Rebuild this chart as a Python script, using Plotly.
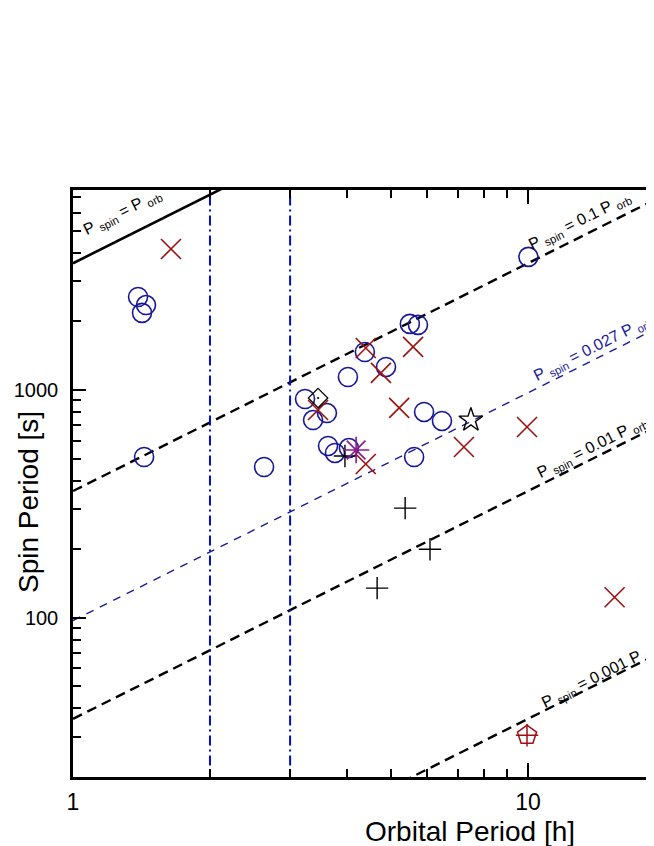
import numpy as np
import plotly.graph_objects as go

# orbital period [h], spin period [s] for each group
circle_porb = [1.39, 1.447, 1.418, 1.433, 2.63, 3.236, 3.37, 3.615, 3.635, 3.765,
               4.04, 4.02, 4.38, 4.875, 5.50, 5.73, 5.62, 5.91, 6.47, 10.02]
circle_pspin = [2560, 2360, 2180, 508, 459, 913, 738, 792, 568, 529,
                556, 1140, 1468, 1262, 1950, 1930, 508, 801, 731, 3840]

xmark_porb = [1.642, 3.456, 4.40, 4.75, 5.59, 5.21, 7.23, 4.40, 9.95, 15.5]
xmark_pspin = [4160, 817, 1528, 1188, 1545, 834, 562, 473, 688, 123]

plus_porb = [3.96, 5.37, 6.09, 4.66]
plus_pspin = [513, 303, 200, 135]

diamond_porb = [3.456]
diamond_pspin = [922]
aster_porb = [4.19]
aster_pspin = [545]
star_porb = [7.49]
star_pspin = [738]
penta_porb = [9.95]
penta_pspin = [30.5]

# P_spin = k * P_orb (P_orb converted to seconds)
ratios = [1.0, 0.1, 0.027, 0.01, 0.001]
gap_edges = [2.0, 3.0]
line_porb = np.array([1.0, 20.0])

NAVY = "#16169a"
DRED = "#a01010"
FONT = "Liberation Sans, Arial, sans-serif"

fig = go.Figure()

# reference lines
for k in ratios:
    if k == 1.0:
        ln = dict(color="black", width=2.6)
    elif k == 0.027:
        ln = dict(color="#1a1a9a", width=1.4, dash="8px,7px")
    else:
        ln = dict(color="black", width=2.4, dash="10px,6px")
    fig.add_trace(go.Scatter(x=line_porb, y=k * 3600 * line_porb, mode="lines",
                             line=ln, hoverinfo="skip"))

# period gap
for g in gap_edges:
    fig.add_trace(go.Scatter(x=[g, g], y=[10, 10000], mode="lines",
                             line=dict(color="#0010c0", width=2, dash="10px,4px,2px,4px"),
                             hoverinfo="skip"))

fig.add_trace(go.Scatter(x=circle_porb, y=circle_pspin, mode="markers",
                         marker=dict(symbol="circle-open", size=19, color=NAVY,
                                     line=dict(width=1.6, color=NAVY))))
fig.add_trace(go.Scatter(x=xmark_porb, y=xmark_pspin, mode="markers",
                         marker=dict(symbol="x-thin-open", size=20, color=DRED,
                                     line=dict(width=1.6, color=DRED))))
fig.add_trace(go.Scatter(x=plus_porb, y=plus_pspin, mode="markers",
                         marker=dict(symbol="cross-thin-open", size=16, color="black",
                                     line=dict(width=1.4, color="black"))))
fig.add_trace(go.Scatter(x=diamond_porb, y=diamond_pspin, mode="markers",
                         marker=dict(symbol="diamond-open-dot", size=15, color="black",
                                     line=dict(width=1.2, color="black"))))
fig.add_trace(go.Scatter(x=aster_porb, y=aster_pspin, mode="markers",
                         marker=dict(symbol="asterisk-open", size=22, color="#8b1a8b",
                                     line=dict(width=1.6, color="#8b1a8b"))))
fig.add_trace(go.Scatter(x=star_porb, y=star_pspin, mode="markers",
                         marker=dict(symbol="star-open", size=18, color="black",
                                     line=dict(width=1.4, color="black"))))
fig.add_trace(go.Scatter(x=penta_porb, y=penta_pspin, mode="markers",
                         marker=dict(symbol="pentagon-open", size=20, color=DRED,
                                     line=dict(width=1.5, color=DRED))))
fig.add_trace(go.Scatter(x=penta_porb, y=penta_pspin, mode="markers",
                         marker=dict(symbol="cross-thin-open", size=16, color=DRED,
                                     line=dict(width=1.5, color=DRED))))

# page sits 8px in from the window corner (body margin)
OFF = 8
W, H = 654 - OFF, 846 - OFF
# plot area in page pixels: left 73, right 654, top 190, bottom 777
L, R, T, B = 73, 654, 190, 777


def px(xp, yp):
    return (xp - L) / (R - L), (B - yp) / (B - T)


labels = [
    ("P <sub>spin</sub> = P <sub>orb</sub>", 122, 212, "black"),
    ("P <sub>spin</sub> = 0.1 P <sub>orb</sub>", 579, 221, "black"),
    ("P <sub>spin</sub> = 0.027 P <sub>orb</sub>", 592, 348, "#1a1a9a"),
    ("P <sub>spin</sub> = 0.01 P <sub>orb</sub>", 592, 447, "black"),
    ("P <sub>spin</sub> = 0.001 P <sub>orb</sub>", 600, 675, "black"),
]
annotations = []
for txt, xp, yp, col in labels:
    ax_, ay_ = px(xp, yp)
    annotations.append(dict(text=txt, x=ax_, y=ay_, xref="paper", yref="paper",
                            xanchor="center", yanchor="middle",
                            showarrow=False, textangle=-26.6,
                            font=dict(size=16, color=col, family=FONT)))

tx, ty = px(470, 831)
annotations.append(dict(text="Orbital Period [h]", x=tx, y=ty, xref="paper", yref="paper",
                        xanchor="center", yanchor="middle",
                        showarrow=False, font=dict(size=28, color="black", family=FONT)))
tx, ty = px(28, 502)
annotations.append(dict(text="Spin Period [s]", x=tx, y=ty, xref="paper", yref="paper",
                        xanchor="center", yanchor="middle",
                        showarrow=False, textangle=-90,
                        font=dict(size=28, color="black", family=FONT)))

x_minor = [2, 3, 4, 5, 6, 7, 8, 9, 20]
y_minor = [20, 30, 40, 50, 60, 70, 80, 90, 200, 300, 400, 500, 600, 700, 800, 900,
           2000, 3000, 4000, 5000, 6000, 7000, 8000, 9000]

fig.update_layout(
    width=W, height=H,
    margin=dict(l=L - OFF, r=0, t=T - OFF, b=H - (B - OFF)),
    paper_bgcolor="white", plot_bgcolor="white",
    showlegend=False,
    font=dict(family=FONT, color="black"),
    annotations=annotations,
    xaxis=dict(
        type="log", range=[0, (R - L) / 455.0],
        showgrid=False, zeroline=False,
        showline=True, linecolor="black", linewidth=2.5, mirror="ticks",
        ticks="inside", ticklen=14, tickwidth=2, tickcolor="black",
        tickvals=[1, 10], ticktext=["1", "10"],
        tickfont=dict(size=23, family=FONT), ticklabelstandoff=3,
        minor=dict(tickvals=x_minor, ticks="inside", ticklen=8, tickwidth=1.6,
                   tickcolor="black", showgrid=False),
    ),
    yaxis=dict(
        type="log", range=[np.log10(20), np.log10(20) + (B - T) / 227.8],
        showgrid=False, zeroline=False,
        showline=True, linecolor="black", linewidth=2.5, mirror=False,
        ticks="inside", ticklen=13, tickwidth=2, tickcolor="black",
        tickvals=[100, 1000], ticktext=["100", "1000"],
        tickfont=dict(size=20, family=FONT), ticklabelstandoff=8,
        minor=dict(tickvals=y_minor, ticks="inside", ticklen=8, tickwidth=1.6,
                   tickcolor="black", showgrid=False),
    ),
)

fig.write_html("out.html")
